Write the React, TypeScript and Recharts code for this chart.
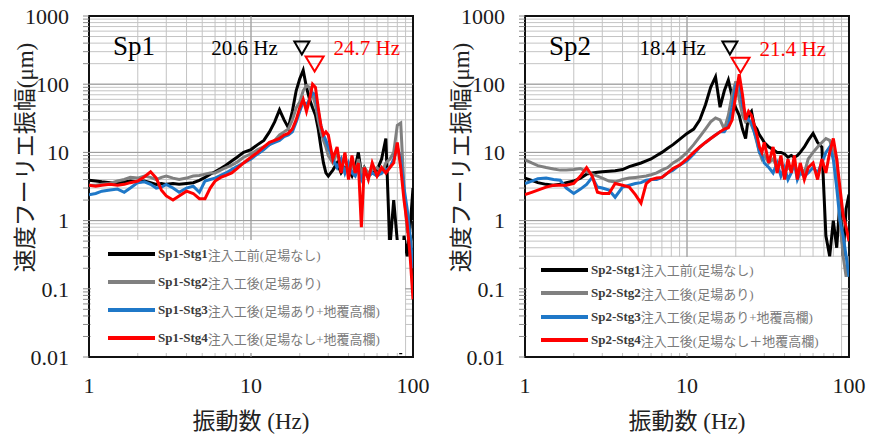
import React from 'react';
import {
  LineChart,
  Line,
  XAxis,
  YAxis,
  CartesianGrid,
  ReferenceLine,
  ReferenceArea,
  ReferenceDot,
  Legend,
  Label,
} from 'recharts';

// frequency samples (Hz), shared by every series
const FREQ = [
  1, 1.1, 1.2, 1.35, 1.5, 1.65, 1.8, 2.0, 2.2, 2.4,
  2.6, 2.8, 3.0, 3.3, 3.6, 4.0, 4.4, 4.8, 5.2, 5.6,
  6.0, 6.5, 7.0, 7.6, 8.2, 9.0, 10, 11, 12, 13,
  14, 15, 16, 17, 18, 19, 20, 21, 22, 23,
  24, 25, 26, 27, 28, 29, 30, 32, 34, 36,
  38, 40, 42, 44, 46, 48, 50, 53, 56, 60,
  64, 68, 72, 76, 80, 84, 88, 92, 96, 100,
];

const X_TICKS = [1, 2, 3, 4, 5, 6, 7, 8, 9, 10, 20, 30, 40, 50, 60, 70, 80, 90, 100];
const Y_TICKS = [
  0.01, 0.02, 0.03, 0.04, 0.05, 0.06, 0.07, 0.08, 0.09,
  0.1, 0.2, 0.3, 0.4, 0.5, 0.6, 0.7, 0.8, 0.9,
  1, 2, 3, 4, 5, 6, 7, 8, 9,
  10, 20, 30, 40, 50, 60, 70, 80, 90,
  100, 200, 300, 400, 500, 600, 700, 800, 900, 1000,
];
const X_MAJOR = [10];
const Y_MAJOR = [0.1, 1, 10, 100];
const DECADES = [0.01, 0.1, 1, 10, 100, 1000];

// Sp1 (um)
const SP1_STG1 = [
  3.9, 3.8, 3.7, 3.6, 3.5, 3.7, 3.8, 3.7, 3.8, 3.6,
  3.4, 3.5, 3.4, 3.5, 3.4, 3.5, 3.6, 3.9, 4.3, 4.8,
  5.2, 5.8, 6.5, 7.5, 8.5, 10, 11, 13, 15, 20,
  28, 42, 30, 23, 40, 80, 120, 160, 90, 60,
  45, 35, 22, 12, 7, 5, 4.5, 5.5, 7, 5,
  6, 5.5, 4.5, 6, 10, 5, 6, 4.5, 5, 5.5,
  8, 16, 0.4, 2, 0.5, 0.011, 0.6, 0.3, 0.8, 3,
];
const SP1_STG2 = [
  3.3, 3.3, 3.4, 3.5, 3.8, 4.0, 4.3, 4.2, 4.5, 4.3,
  4.0, 4.3, 4.5, 4.2, 4.0, 4.2, 4.5, 4.6, 4.8, 5.0,
  5.0, 5.5, 6.0, 6.5, 7.2, 8.5, 9.5, 11, 12, 13,
  15, 18, 20, 22, 30, 45, 55, 80, 95, 90,
  70, 50, 30, 20, 15, 12, 9, 7, 10, 6,
  8, 6, 7, 5, 8, 5, 6, 5, 5.5, 6,
  5, 7, 8, 10, 25, 27, 3, 0.7, 0.6, 0.4,
];
const SP1_STG3 = [
  2.4, 2.5, 2.7, 2.8, 2.9, 2.6, 3.0, 3.6, 3.7, 3.4,
  3.0, 3.1, 3.4, 3.0, 2.6, 3.0, 3.2, 2.6, 3.8, 4.0,
  4.2, 4.6, 5.0, 5.6, 6.2, 7.0, 8.0, 9.5, 11, 13,
  14, 15, 17, 18, 20, 28, 40, 55, 50, 60,
  75, 70, 40, 25, 18, 15, 12, 8, 6, 8,
  5, 7, 5, 4.5, 6, 4, 5, 4.5, 5, 4.5,
  5, 5.5, 6, 8, 12, 8, 3, 1.5, 0.6, 0.2,
];
const SP1_STG4 = [
  3.3, 3.2, 3.3, 3.4, 3.3, 3.4, 3.6, 3.8, 4.4, 5.2,
  4.2, 2.8, 2.3, 2.0, 2.3, 2.7, 2.5, 2.1, 2.1, 3.0,
  3.8, 4.3, 4.6, 5.0, 5.8, 7.0, 8.5, 10, 12, 14,
  15, 16, 18, 19, 22, 30, 45, 60, 40, 60,
  100, 90, 45, 25, 18, 20, 18, 8, 12, 5,
  10, 4, 9, 5, 7, 0.8, 6, 4, 7, 4.5,
  6, 5, 6, 7, 14, 6, 2, 0.9, 0.3, 0.07,
];

// Sp2 (um)
const SP2_STG1 = [
  4.2, 3.9, 3.6, 3.4, 3.3, 3.4, 3.6, 3.8, 4.2, 4.8,
  5.0, 5.1, 5.2, 5.3, 5.4, 5.6, 6.2, 6.6, 7.0, 7.5,
  8.0, 9.0, 10, 11.5, 13, 15.5, 19, 22, 30, 50,
  90, 128, 46, 80, 115, 65, 45, 35, 22, 16,
  35, 40, 25, 22, 18, 16, 14, 12, 11, 10,
  10, 9.5, 8.5, 9, 8.5, 9, 10, 12, 15, 19,
  14, 12, 0.6, 0.3, 1.0, 0.4, 2, 0.3, 1.5, 2.4,
];
const SP2_STG2 = [
  7.8, 7.0, 6.4, 6.0, 5.7, 5.5, 5.5, 5.6, 5.8, 5.2,
  4.8, 4.5, 4.2, 3.8, 3.7, 4.0, 4.2, 4.3, 4.4, 4.5,
  4.7, 5.0, 5.5, 6.0, 7.0, 8.0, 10, 13, 17, 22,
  28, 32, 30, 22, 35, 70, 110, 60, 35, 28,
  30, 25, 20, 14, 10, 8, 9, 7, 8, 6,
  7, 5, 6, 5.5, 7, 5, 6, 5, 8, 10,
  12, 14, 16, 15, 10, 8, 1, 0.3, 0.15, 0.3,
];
const SP2_STG3 = [
  3.5, 3.8, 4.1, 4.2, 4.0, 3.9, 3.0, 2.5, 2.9, 3.4,
  4.3, 3.1, 3.0, 2.8, 2.2, 3.1, 3.3, 3.5, 3.6, 3.9,
  4.0, 4.0, 4.3, 5.0, 5.5, 6.5, 7.5, 9.5, 12, 14,
  16, 18, 20, 20, 25, 45, 95, 110, 50, 35,
  30, 28, 20, 15, 10, 9, 7, 6, 5, 7,
  4.5, 6, 4, 5, 7, 4, 5, 4.5, 5, 6,
  5, 7, 10, 12, 8, 3, 1, 0.6, 0.3, 0.15,
];
const SP2_STG4 = [
  2.4, 2.6, 2.8, 3.1, 3.3, 3.3, 3.3, 3.5, 4.5, 6.0,
  4.5, 2.6, 2.5, 2.5, 3.5, 3.3, 3.1, 2.4, 1.8, 3.5,
  4.0, 4.2, 4.3, 5.0, 5.8, 6.5, 8.0, 10, 12, 14,
  16, 18, 20, 22, 23, 30, 70, 140, 70, 30,
  40, 35, 25, 18, 12, 10, 14, 7, 12, 5,
  9, 4, 8, 5, 9, 4, 7, 4, 6, 7,
  4, 8, 5, 10, 16, 8, 3, 1.2, 0.8, 0.5,
];

const SP1_NAMES = [
  'Sp1-Stg1注入工前(足場なし)',
  'Sp1-Stg2注入工後(足場あり)',
  'Sp1-Stg3注入工後(足場あり+地覆高欄)',
  'Sp1-Stg4注入工後(足場なし+地覆高欄)',
];
const SP2_NAMES = [
  'Sp2-Stg1注入工前(足場なし)',
  'Sp2-Stg2注入工後(足場あり)',
  'Sp2-Stg3注入工後(足場あり+地覆高欄)',
  'Sp2-Stg4注入工後(足場なし＋地覆高欄)',
];
// peak markers: frequency, marker height, label
const SP1_PEAKS = [
  { f: 20.6, v: 340, label: '20.6 Hz' },
  { f: 24.7, v: 198, label: '24.7 Hz' },
];
const SP2_PEAKS = [
  { f: 18.4, v: 340, label: '18.4 Hz' },
  { f: 21.4, v: 190, label: '21.4 Hz' },
];

const COLORS = ['#000000', '#808080', '#1f78c8', '#ff0000'];
const SERIF = "'Liberation Serif', 'Times New Roman', serif";
const SERIF_CJK = "'Liberation Serif', 'Noto Sans CJK JP', serif";

const fmtTick = (v: number) => (DECADES.includes(v) ? String(v) : '');

const tickStyle = { fontSize: 22, fontFamily: SERIF, fill: '#1a1a1a' };

function PeakMark(props: any) {
  const { cx, cy, red, label } = props;
  if (cx == null || cy == null) return null;
  const w = red ? 9 : 7.5;
  const h = red ? 7.5 : 6.5;
  const color = red ? '#ff0000' : '#000000';
  return (
    <g>
      <polygon
        points={`${cx - w},${cy - h} ${cx + w},${cy - h} ${cx},${cy + h}`}
        fill="none"
        stroke={color}
        strokeWidth={2}
      />
      <text
        x={red ? cx + 19 : cx - 24}
        y={red ? cy - 9 : cy + 7}
        textAnchor={red ? 'start' : 'end'}
        fontSize={21}
        fontFamily={SERIF}
        fill={color}
      >
        {label}
      </text>
    </g>
  );
}

function YTitle(props: any) {
  const vb = props.viewBox || { x: 0, y: 16, width: 89, height: 341 };
  const x = vb.x + 25;
  const y = vb.y + vb.height / 2 - 29;
  return (
    <text
      x={x}
      y={y}
      transform={`rotate(-90 ${x} ${y})`}
      textAnchor="middle"
      dominantBaseline="central"
      fontSize={23}
      fontFamily={SERIF_CJK}
      fill="#222"
    >
      速度フーリエ振幅(μm)
    </text>
  );
}

function makeLegend(rowH: number, padTop: number, lineLeft: number) {
  return (props: any) => {
    const payload = props.payload || [];
    return (
      <div
        style={{
          background: '#ffffff',
          width: '100%',
          height: '100%',
          paddingTop: padTop,
          boxSizing: 'border-box',
        }}
      >
        {payload.map((e: any, i: number) => {
          const m = /^(Sp\d-Stg\d)(.*)$/.exec(String(e.value)) || ['', String(e.value), ''];
          return (
            <div key={i} style={{ display: 'flex', alignItems: 'center', height: rowH }}>
              <span
                style={{
                  display: 'inline-block',
                  width: 47,
                  height: 4,
                  background: e.color,
                  marginLeft: lineLeft,
                  marginRight: 3,
                }}
              />
              <span style={{ fontFamily: SERIF, fontSize: 13, fontWeight: 'bold', color: '#3a3a3a' }}>
                {m[1]}
              </span>
              <span style={{ fontFamily: SERIF_CJK, fontSize: 13, color: '#7a7a7a' }}>{m[2]}</span>
            </div>
          );
        })}
      </div>
    );
  };
}

type PanelProps = {
  title: string;
  series: number[][];
  names: string[];
  peaks: { f: number; v: number; label: string }[];
  legendTop: number;
  legendH: number;
  rowH: number;
  padTop: number;
  lineLeft: number;
};

function Panel({ title, series, names, peaks, legendTop, legendH, rowH, padTop, lineLeft }: PanelProps) {
  const rows = FREQ.map((f, i) => {
    const r: any = { f };
    series.forEach((s, k) => {
      r['s' + k] = s[i];
    });
    return r;
  });

  return (
    <LineChart width={436} height={436} data={rows} margin={{ top: 16, right: 23, bottom: 0, left: 0 }}>
      <CartesianGrid stroke="#c4c4c4" strokeWidth={1} />
      {X_MAJOR.map((v) => (
        <ReferenceLine key={'x' + v} x={v} stroke="#999999" strokeWidth={1} />
      ))}
      {Y_MAJOR.map((v) => (
        <ReferenceLine key={'y' + v} y={v} stroke="#999999" strokeWidth={1} />
      ))}
      <XAxis
        dataKey="f"
        type="number"
        scale="log"
        domain={[1, 100]}
        ticks={X_TICKS}
        interval={0}
        allowDataOverflow
        tickFormatter={fmtTick}
        tickLine={false}
        axisLine={false}
        tickSize={6}
        tickMargin={14}
        height={79}
        tick={tickStyle}
      >
        <Label
          value="振動数 (Hz)"
          position="insideBottom"
          offset={7}
          style={{ fontSize: 23, fontFamily: SERIF_CJK, fill: '#222' }}
        />
      </XAxis>
      <YAxis
        type="number"
        scale="log"
        domain={[0.01, 1000]}
        ticks={Y_TICKS}
        interval={0}
        allowDataOverflow
        tickFormatter={fmtTick}
        width={89}
        axisLine={false}
        tickLine={{ stroke: '#8c8c8c' }}
        tickSize={6}
        tickMargin={14}
        tick={tickStyle}
      >
        <Label content={<YTitle />} />
      </YAxis>
      {series.map((_, k) => (
        <Line
          key={k}
          type="linear"
          dataKey={'s' + k}
          name={names[k]}
          stroke={COLORS[k]}
          strokeWidth={3}
          dot={false}
          isAnimationActive={false}
        />
      ))}
      <ReferenceArea
        x1={1}
        x2={100}
        y1={0.01}
        y2={1000}
        fill="none"
        fillOpacity={0}
        stroke="#111111"
        strokeWidth={2}
        ifOverflow="visible"
        label={(p: any) => {
          const vb = p.viewBox || { x: 89, y: 16 };
          return (
            <text x={vb.x + 24} y={vb.y + 39} fontSize={27} fontFamily={SERIF} fill="#000">
              {title}
            </text>
          );
        }}
      />
      {peaks.map((pk, i) => (
        <ReferenceDot
          key={pk.label}
          x={pk.f}
          y={pk.v}
          r={8}
          ifOverflow="visible"
          shape={(p: any) => <PeakMark cx={p.cx} cy={p.cy} red={i === 1} label={pk.label} />}
        />
      ))}
      <Legend
        layout="vertical"
        align="center"
        verticalAlign="middle"
        wrapperStyle={{ left: 91, top: legendTop, width: 314, height: legendH }}
        content={makeLegend(rowH, padTop, lineLeft)}
      />
    </LineChart>
  );
}

export default function App() {
  return (
    <div
      style={{
        position: 'absolute',
        left: 0,
        top: 0,
        width: 876,
        height: 436,
        background: '#ffffff',
        display: 'flex',
      }}
    >
      <div style={{ width: 436, height: 436 }}>
        <Panel
          title="Sp1"
          series={[SP1_STG1, SP1_STG2, SP1_STG3, SP1_STG4]}
          names={SP1_NAMES}
          peaks={SP1_PEAKS}
          legendTop={240}
          legendH={113}
          rowH={28}
          padTop={0}
          lineLeft={17}
        />
      </div>
      <div style={{ width: 436, height: 436 }}>
        <Panel
          title="Sp2"
          series={[SP2_STG1, SP2_STG2, SP2_STG3, SP2_STG4]}
          names={SP2_NAMES}
          peaks={SP2_PEAKS}
          legendTop={257}
          legendH={96}
          rowH={23.5}
          padTop={1}
          lineLeft={14}
        />
      </div>
    </div>
  );
}
